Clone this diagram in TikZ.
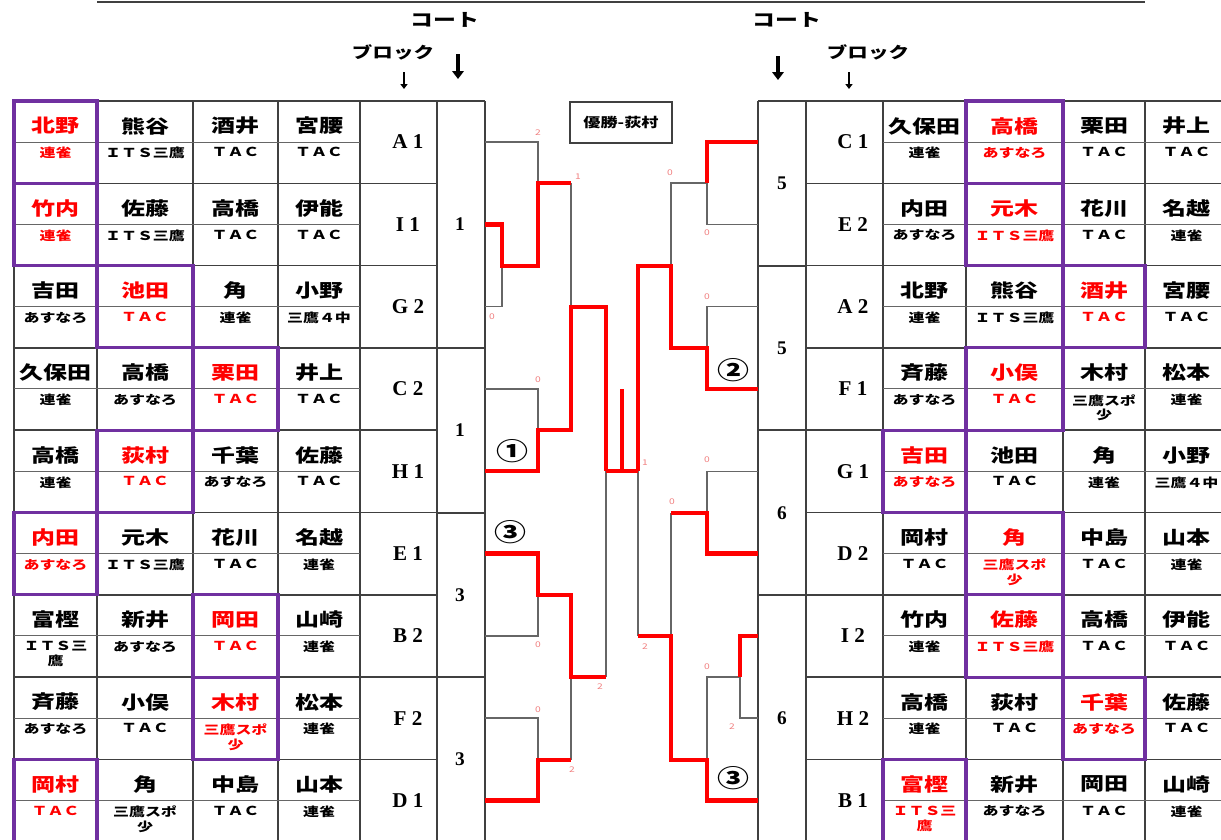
\documentclass[tikz,border=0pt]{standalone}
\usepackage{fontspec}
\setmainfont{Noto Sans CJK JP}[FakeStretch=1.3]
\newfontfamily\latin{Liberation Serif}
\usetikzlibrary{arrows.meta}
\definecolor{winpurple}{HTML}{7030A0}
\definecolor{scorered}{HTML}{F08080}

\tikzset{
  frame/.style={draw=black!75, line width=0.9pt},
  midrule/.style={draw=black!60, line width=0.5pt},
  winbox/.style={draw=winpurple, line width=1.8pt},
  player/.style={font=\bfseries\fontsize{10.5}{11}\selectfont, inner sep=0pt},
  club/.style={font=\bfseries\fontsize{7}{8.5}\selectfont, inner sep=0pt, align=center, anchor=north},
  blocklbl/.style={font=\latin\bfseries\fontsize{12}{13}\selectfont, inner sep=0pt},
  courtlbl/.style={font=\latin\bfseries\fontsize{11}{12}\selectfont, inner sep=0pt},
  lost/.style={draw=black!60, line width=0.8pt},
  won/.style={draw=red, line width=2.6pt},
  score/.style={font=\fontsize{4.5}{5}\selectfont, text=scorered, inner sep=0pt},
  marker/.style={font=\bfseries\fontsize{14}{15}\selectfont, inner sep=0pt},
  heading/.style={font=\bfseries\fontsize{10}{11}\selectfont, inner sep=0pt},
  champ/.style={draw=black!75, line width=0.8pt, minimum width=2.04cm, minimum height=0.82cm, font=\bfseries\fontsize{7.5}{8}\selectfont},
  bigarrow/.style={line width=2.6pt, -{Triangle[length=4.5pt,width=6.5pt]}},
  smallarrow/.style={line width=1.3pt, -{Triangle[length=2.8pt,width=4pt]}},
}

\begin{document}
\begin{tikzpicture}[x=0.02cm,y=-0.02cm]
\useasboundingbox (0,0) rectangle (1221,839);
\clip (0,0) rectangle (1221,839);

\draw[frame] (97,2) -- (1145,2);

% headings
\node[heading] (lcourt) at (445,20) {コート};
\node[heading] (rcourt) at (787,20) {コート};
\node[heading,font=\bfseries\fontsize{9}{10}\selectfont] (lblock) at (393,52) {ブロック};
\node[heading,font=\bfseries\fontsize{9}{10}\selectfont] (rblock) at (868,52) {ブロック};
\draw[bigarrow] (458,54) -- (458,79);
\draw[bigarrow] (778,56) -- (778,80);
\draw[smallarrow] (404,72) -- (404,89);
\draw[smallarrow] (849,72) -- (849,89);

% grid
\foreach \x in {14,97,193,278,360,437,485,758,806,883,966,1063,1145,1228}
  \draw[frame] (\x,101) -- (\x,842);
\foreach \r [evaluate=\r as \y using 101+82.3*\r] in {0,...,9}{
  \draw[frame] (14,\y) -- (437,\y);
  \draw[frame] (806,\y) -- (1228,\y);
}
\foreach \y in {101,348,513,677} \draw[frame] (437,\y) -- (485,\y);
\foreach \y in {101,266,430,595} \draw[frame] (758,\y) -- (806,\y);

% left table
\foreach \bl/\na/\ca/\nb/\cb/\nc/\cc/\nd/\cd/\w [count=\r from 0] in {
  A 1/北野/連雀/熊谷/ＩＴＳ三鷹/酒井/ＴＡＣ/宮腰/ＴＡＣ/1,
  I 1/竹内/連雀/佐藤/ＩＴＳ三鷹/高橋/ＴＡＣ/伊能/ＴＡＣ/1,
  G 2/吉田/あすなろ/池田/ＴＡＣ/角/連雀/小野/三鷹４中/2,
  C 2/久保田/連雀/高橋/あすなろ/栗田/ＴＡＣ/井上/ＴＡＣ/3,
  H 1/高橋/連雀/荻村/ＴＡＣ/千葉/あすなろ/佐藤/ＴＡＣ/2,
  E 1/内田/あすなろ/元木/ＩＴＳ三鷹/花川/ＴＡＣ/名越/連雀/1,
  B 2/富樫/ＩＴＳ三\\鷹/新井/あすなろ/岡田/ＴＡＣ/山崎/連雀/3,
  F 2/斉藤/あすなろ/小俣/ＴＡＣ/木村/三鷹スポ\\少/松本/連雀/3,
  D 1/岡村/ＴＡＣ/角/三鷹スポ\\少/中島/ＴＡＣ/山本/連雀/1}{
  \pgfmathsetmacro\rowtop{101+82.3*\r}
  \draw[midrule] (14,\rowtop+41) -- (360,\rowtop+41);
  \node[blocklbl] (Lb\r) at (408,\rowtop+41) {\bl};
  \coordinate (la\r) at (485,\rowtop+41);
  \foreach \nm/\cl/\xl/\xr [count=\k] in {\na/\ca/14/97,\nb/\cb/97/193,\nc/\cc/193/278,\nd/\cd/278/360}{
    \ifnum\k=\w\relax\def\tc{red}\else\def\tc{black}\fi
    \node[player,text=\tc] (L\r-\k) at ({(\xl+\xr)/2},\rowtop+25) {\nm};
    \node[club,text=\tc] (Lc\r-\k) at ({(\xl+\xr)/2},\rowtop+46) {\cl};
    \ifnum\k=\w\relax\draw[winbox] (\xl,\rowtop) rectangle (\xr,\rowtop+82.3);\fi
  }
}

% right table
\foreach \bl/\na/\ca/\nb/\cb/\nc/\cc/\nd/\cd/\w [count=\r from 0] in {
  C 1/久保田/連雀/高橋/あすなろ/栗田/ＴＡＣ/井上/ＴＡＣ/2,
  E 2/内田/あすなろ/元木/ＩＴＳ三鷹/花川/ＴＡＣ/名越/連雀/2,
  A 2/北野/連雀/熊谷/ＩＴＳ三鷹/酒井/ＴＡＣ/宮腰/ＴＡＣ/3,
  F 1/斉藤/あすなろ/小俣/ＴＡＣ/木村/三鷹スポ\\少/松本/連雀/2,
  G 1/吉田/あすなろ/池田/ＴＡＣ/角/連雀/小野/三鷹４中/1,
  D 2/岡村/ＴＡＣ/角/三鷹スポ\\少/中島/ＴＡＣ/山本/連雀/2,
  I 2/竹内/連雀/佐藤/ＩＴＳ三鷹/高橋/ＴＡＣ/伊能/ＴＡＣ/2,
  H 2/高橋/連雀/荻村/ＴＡＣ/千葉/あすなろ/佐藤/ＴＡＣ/3,
  B 1/富樫/ＩＴＳ三\\鷹/新井/あすなろ/岡田/ＴＡＣ/山崎/連雀/1}{
  \pgfmathsetmacro\rowtop{101+82.3*\r}
  \draw[midrule] (883,\rowtop+41) -- (1228,\rowtop+41);
  \node[blocklbl] (Rb\r) at (853,\rowtop+41) {\bl};
  \coordinate (ra\r) at (758,\rowtop+41);
  \foreach \nm/\cl/\xl/\xr [count=\k] in {\na/\ca/883/966,\nb/\cb/966/1063,\nc/\cc/1063/1145,\nd/\cd/1145/1228}{
    \ifnum\k=\w\relax\def\tc{red}\else\def\tc{black}\fi
    \node[player,text=\tc] (R\r-\k) at ({(\xl+\xr)/2},\rowtop+25) {\nm};
    \node[club,text=\tc] (Rc\r-\k) at ({(\xl+\xr)/2},\rowtop+46) {\cl};
    \ifnum\k=\w\relax\draw[winbox] (\xl,\rowtop) rectangle (\xr,\rowtop+82.3);\fi
  }
}

% courts
\foreach \c/\y [count=\i] in {1/224.5,1/430,3/595,3/759}
  \node[courtlbl] (Lct\i) at (460,\y) {\c};
\foreach \c/\y [count=\i] in {5/183,5/348,6/513,6/718}
  \node[courtlbl] (Rct\i) at (782,\y) {\c};

% bracket
\coordinate (l1) at (502,266);
\coordinate (l2) at (538,183);
\coordinate (l3) at (571,307);
\coordinate (l4) at (538,430);
\coordinate (l5) at (606,471);
\coordinate (l6) at (538,595);
\coordinate (l7) at (571,677);
\coordinate (l8) at (538,760);
\coordinate (fin) at (638,471);
\coordinate (bar) at (622,389);
\coordinate (r1) at (707,183);
\coordinate (r2) at (707,348);
\coordinate (r3) at (671,266);
\coordinate (r4) at (707,513);
\coordinate (r5) at (740,677);
\coordinate (r6) at (707,760);
\coordinate (r7) at (671,636);

\draw[lost] (la0) -| (l2);
\draw[lost] (la2) -| (l1);
\draw[lost] (l2 -| l3) -- (l3);
\draw[lost] (la3) -| (l4);
\draw[lost] (la6) -| (l6);
\draw[lost] (l7 -| l5) -- (l5);
\draw[lost] (l7) -- (l8 -| l7);
\draw[lost] (la7) -| (l8);
\draw[lost] (ra1) -| (r1);
\draw[lost] (r1) -| (r3);
\draw[lost] (ra2) -| (r2);
\draw[lost] (ra4) -| (r4);
\draw[lost] (r4 -| r3) -- (r7);
\draw[lost] (fin) -- (fin |- r7);
\draw[lost] (r6) |- (r5);
\draw[lost] (ra7) -| (r5);

\draw[won] (la1) -| (l1) -| (l2) -- (l2 -| l3);
\draw[won] (la4) -| (l4) -| (l3) -| (l5);
\draw[won] (l5) -- (fin);
\draw[won] (bar) -- (bar |- l5);
\draw[won] (la5) -| (l6) -| (l7) -- (l7 -| l5);
\draw[won] (la8) -| (l8) -- (l8 -| l7);
\draw[won] (ra0) -| (r1);
\draw[won] (ra3) -| (r2) -| (r3) -| (fin);
\draw[won] (ra5) -| (r4) -- (r4 -| r3);
\draw[won] (fin |- r7) -- (r7) |- (r6) |- (ra8);
\draw[won] (ra6) -| (r5);

% scores
\foreach \s/\x/\y [count=\i] in {2/538/133,1/578/177,0/492/317,0/538/380,1/645/463,
  0/538/645,2/600/687,0/538/710,2/572/770,0/670/173,0/707/233,0/707/297,
  0/707/460,0/672/502,2/645/647,0/707/667,2/732/727}
  \node[score] (s\i) at (\x,\y) {\s};

\node[marker] (m1) at (512,451) {①};
\node[marker] (m3l) at (510,532) {③};
\node[marker] (m2) at (733,370) {②};
\node[marker] (m3r) at (733,778) {③};

\node[champ] (champ) at (621,122.5) {優勝-荻村};
\end{tikzpicture}
\end{document}
